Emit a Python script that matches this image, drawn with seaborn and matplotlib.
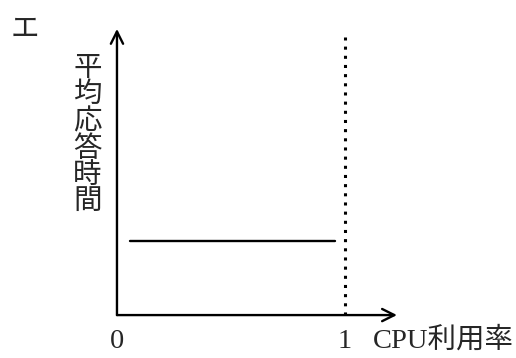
import numpy as np
import pandas as pd
import seaborn as sns
import matplotlib
matplotlib.use("Agg")
import matplotlib.pyplot as plt

# values (x: CPU utilisation, y: relative response time)
line_x = [0.057, 0.956]
line_y = [0.259, 0.259]
limit_x = [1.0, 1.0]
limit_y = [0.0, 0.972]
xtick_vals = [0, 1]
xtick_labels = ["0", "1"]
xlabel = "CPU利用率"
ylabel = "平均応答時間"
panel = "エ"

sns.set_style("white")
plt.rcParams['font.family'] = ['Liberation Serif', 'Noto Sans CJK JP']

fig = plt.figure(figsize=(5.16, 3.58), dpi=100)
ax = fig.add_axes([0, 0, 1, 1])
ax.set_xlim(-0.513, 1.750)
ax.set_ylim(-0.150, 1.101)
ax.axis("off")

df_line = pd.DataFrame({"x": line_x, "y": line_y})
df_lim = pd.DataFrame({"x": limit_x, "y": limit_y})
sns.lineplot(data=df_line, x="x", y="y", ax=ax, color="black", lw=1.7,
             estimator=None, sort=False)
sns.lineplot(data=df_lim, x="x", y="y", ax=ax, color="black", lw=2.2,
             estimator=None, sort=False)
dotted = ax.lines[-1]
dotted.set_linestyle((0, (1, 2.0)))

# axes with arrows
arrow = dict(arrowstyle="->", lw=1.7, color="black", mutation_scale=22,
             shrinkA=0, shrinkB=0)
ax.annotate("", xy=(0, 1.0), xytext=(0, 0), arrowprops=arrow)
ax.annotate("", xy=(1.228, 0), xytext=(0, 0), arrowprops=arrow)

fs = 20.5
for v, lab in zip(xtick_vals, xtick_labels):
    ax.text(v, -0.115, lab, ha="center", va="baseline", fontsize=fs)
ax.text(1.123, -0.115, xlabel, ha="left", va="baseline", fontsize=fs)
ax.text(-0.129, 0.626, "\n".join(ylabel), ha="center", va="center",
        fontsize=fs, linespacing=1.04)
ax.text(-0.404, 0.993, panel, ha="center", va="center", fontsize=fs)

fig.savefig("out.png", dpi=100)
